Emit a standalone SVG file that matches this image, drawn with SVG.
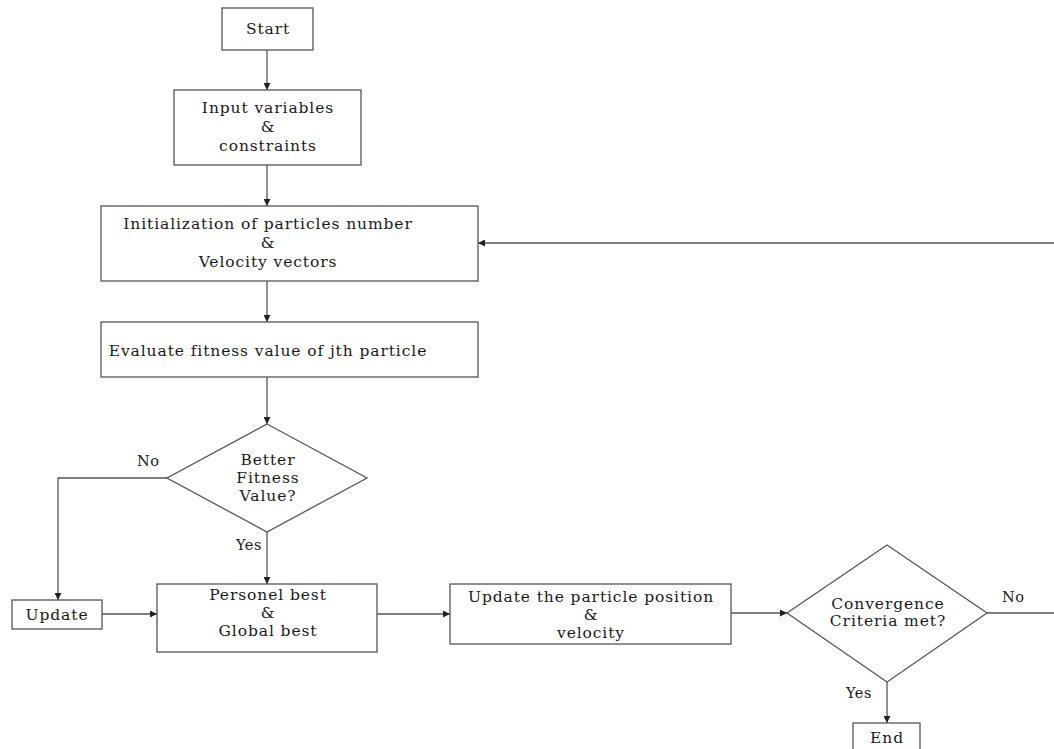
<svg xmlns="http://www.w3.org/2000/svg" width="1054" height="749" viewBox="0 0 1054 749">
<defs>
<marker id="ah" viewBox="0 0 10 10" refX="10" refY="5" markerWidth="7" markerHeight="7" markerUnits="userSpaceOnUse" orient="auto">
<path d="M0,0 L10,5 L0,10 z" fill="#222"/>
</marker>
</defs>
<style>
.box{fill:#fff;stroke:#555;stroke-width:1.3}
.ln{fill:none;stroke:#555;stroke-width:1.3}
.t{font-family:"DejaVu Serif","Liberation Serif",serif;font-size:15.5px;letter-spacing:0.9px;fill:#1a1a1a;text-anchor:middle}
.lb{font-family:"DejaVu Serif","Liberation Serif",serif;font-size:14.5px;letter-spacing:0.5px;fill:#1a1a1a}
</style>
<rect width="1054" height="749" fill="#fff"/>
<g id="connectors">
<line class="ln" x1="267" y1="50" x2="267" y2="90" marker-end="url(#ah)"/>
<line class="ln" x1="267" y1="165" x2="267" y2="206" marker-end="url(#ah)"/>
<line class="ln" x1="267" y1="281" x2="267" y2="322" marker-end="url(#ah)"/>
<line class="ln" x1="267" y1="377" x2="267" y2="424" marker-end="url(#ah)"/>
<polyline class="ln" points="167,478 58,478 58,600" marker-end="url(#ah)"/>
<line class="ln" x1="267" y1="532" x2="267" y2="584" marker-end="url(#ah)"/>
<line class="ln" x1="102" y1="614" x2="157" y2="614" marker-end="url(#ah)"/>
<line class="ln" x1="377" y1="614" x2="450" y2="614" marker-end="url(#ah)"/>
<line class="ln" x1="731" y1="613" x2="787" y2="613" marker-end="url(#ah)"/>
<line class="ln" x1="987" y1="613" x2="1054" y2="613"/>
<line class="ln" x1="1054" y1="243" x2="478" y2="243" marker-end="url(#ah)"/>
<line class="ln" x1="887" y1="682" x2="887" y2="723" marker-end="url(#ah)"/>
<text class="lb" x="137" y="466">No</text>
<text class="lb" x="236" y="550">Yes</text>
<text class="lb" x="1002" y="602">No</text>
<text class="lb" x="846" y="698">Yes</text>
</g>
<g id="start">
<rect class="box" x="222" y="8" width="91" height="42"/>
<text class="t" x="268" y="34">Start</text>
</g>
<g id="input">
<rect class="box" x="174" y="90" width="187" height="75"/>
<text class="t" x="268" y="113">Input variables</text>
<text class="t" x="268" y="132">&amp;</text>
<text class="t" x="268" y="151">constraints</text>
</g>
<g id="init">
<rect class="box" x="101" y="206" width="377" height="75"/>
<text class="t" x="268" y="229">Initialization of particles number</text>
<text class="t" x="268" y="248">&amp;</text>
<text class="t" x="268" y="267">Velocity vectors</text>
</g>
<g id="evaluate">
<rect class="box" x="101" y="322" width="377" height="55"/>
<text class="t" x="268" y="356">Evaluate fitness value of jth particle</text>
</g>
<g id="better">
<polygon class="box" points="267,424 367,478 267,532 167,478"/>
<text class="t" x="268" y="465">Better</text>
<text class="t" x="268" y="483">Fitness</text>
<text class="t" x="268" y="501">Value?</text>
</g>
<g id="update">
<rect class="box" x="12" y="600" width="90" height="29"/>
<text class="t" x="57" y="620">Update</text>
</g>
<g id="personel">
<rect class="box" x="157" y="584" width="220" height="68"/>
<text class="t" x="268" y="600">Personel best</text>
<text class="t" x="268" y="618">&amp;</text>
<text class="t" x="268" y="636">Global best</text>
</g>
<g id="updatepos">
<rect class="box" x="450" y="584" width="281" height="60"/>
<text class="t" x="591" y="602">Update the particle position</text>
<text class="t" x="591" y="620">&amp;</text>
<text class="t" x="591" y="638">velocity</text>
</g>
<g id="convergence">
<polygon class="box" points="887,545 987,613 887,682 787,613"/>
<text class="t" x="888" y="609">Convergence</text>
<text class="t" x="888" y="626">Criteria met?</text>
</g>
<g id="end">
<rect class="box" x="853" y="723" width="67" height="35"/>
<text class="t" x="887" y="743">End</text>
</g>
</svg>
